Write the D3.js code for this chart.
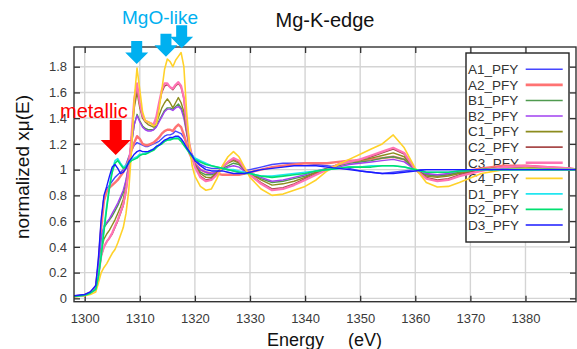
<!DOCTYPE html>
<html><head><meta charset="utf-8">
<script src="https://cdn.jsdelivr.net/npm/d3@7"></script>
<style>
html,body{margin:0;padding:0;background:#fff;}
svg{display:block;font-family:"Liberation Sans",Arial,sans-serif;}
</style></head>
<body>
<svg id="c" width="577" height="349"></svg>
<script>
// ---------------- data ----------------
const energies = [1298,1300,1301,1302,1302.5,1303,1303.5,1304,1304.5,1305,1305.5,1306,1306.5,1307,1307.5,1308,1308.5,1309,
 1309.5,1310,1310.5,1311,1311.5,1312,1312.5,1313,1313.5,1314,1314.5,1315,1315.5,1316,1316.5,1317,1317.5,1318,1318.5,1319,1319.5,1320,
 1321,1322,1323,1324,1325,1326,1327,1328,1329,1330,
 1332,1334,1336,1338,1340,1342,1344,1346,1348,1350,1352,1354,1356,1358,1360,1362,1364,1366,1368,
 1372,1376,1380,1384,1388,1389.5];

const seriesNames = ["A1_PFY","A2_PFY","B1_PFY","B2_PFY","C1_PFY","C2_PFY","C3_PFY","C4_PFY","D1_PFY","D2_PFY","D3_PFY"];

const A1 = [0.015,0.025,0.045,
 0.09,0.28,0.58,0.79,0.85,0.88,0.91,0.94,0.96,0.98,1.0,1.04,1.10,1.15,1.19,
 1.21,1.20,1.19,1.18,1.18,1.19,1.20,1.21,1.22,1.24,1.26,1.27,1.27,1.28,1.30,1.29,1.28,1.25,1.20,1.15,1.12,1.08,
 1.04,1.02,1.01,1.01,1.01,1.0,0.99,0.98,0.99,1.0,
 1.02,1.04,1.05,1.05,1.05,1.04,1.03,1.02,1.01,0.99,0.98,0.97,0.98,0.99,1.0,1.0,1.0,1.0,1.0,
 1.0,1.0,1.0,1.0,1.0,1.0];
const A2 = [0.015,0.025,0.045,
 0.08,0.25,0.55,0.76,0.83,0.86,0.88,0.90,0.92,0.95,0.98,1.02,1.08,1.15,1.21,
 1.26,1.24,1.20,1.19,1.19,1.20,1.21,1.23,1.25,1.28,1.30,1.31,1.31,1.30,1.33,1.35,1.33,1.27,1.20,1.13,1.08,1.05,
 1.0,0.98,0.97,0.97,0.96,0.96,0.96,0.96,0.97,0.98,
 1.0,1.02,1.03,1.04,1.05,1.05,1.05,1.06,1.07,1.07,1.08,1.09,1.10,1.08,1.0,0.96,0.95,0.96,0.98,
 1.01,1.03,1.03,1.02,1.01,1.0];
const B1 = [0.015,0.025,0.045,
 0.08,0.24,0.46,0.55,0.58,0.61,0.64,0.68,0.72,0.77,0.82,0.91,1.04,1.20,1.35,
 1.43,1.38,1.34,1.32,1.31,1.31,1.31,1.34,1.38,1.42,1.46,1.48,1.48,1.47,1.49,1.51,1.48,1.42,1.30,1.18,1.10,1.04,
 0.98,0.96,0.96,0.98,1.01,1.03,1.05,1.04,1.0,0.97,
 0.93,0.90,0.91,0.93,0.95,0.98,1.01,1.03,1.05,1.06,1.07,1.09,1.10,1.08,1.0,0.96,0.95,0.96,0.98,
 1.0,1.01,1.02,1.01,1.01,1.0];
const B2 = [0.015,0.025,0.045,
 0.08,0.25,0.48,0.56,0.59,0.62,0.66,0.70,0.74,0.79,0.84,0.92,1.04,1.20,1.35,
 1.42,1.37,1.33,1.31,1.30,1.30,1.31,1.33,1.37,1.41,1.45,1.47,1.47,1.46,1.48,1.49,1.47,1.40,1.28,1.17,1.09,1.04,
 1.0,0.98,0.97,0.98,1.0,1.02,1.03,1.02,0.99,0.97,
 0.94,0.91,0.92,0.94,0.96,0.99,1.01,1.02,1.04,1.05,1.06,1.07,1.08,1.06,1.0,0.97,0.96,0.97,0.99,
 1.0,1.01,1.02,1.01,1.01,1.0];
const C1 = [0.015,0.025,0.04,
 0.07,0.20,0.38,0.46,0.50,0.53,0.57,0.61,0.66,0.71,0.77,0.87,1.02,1.25,1.48,
 1.60,1.48,1.40,1.37,1.35,1.34,1.33,1.36,1.42,1.48,1.52,1.55,1.52,1.48,1.52,1.56,1.52,1.45,1.30,1.18,1.10,1.04,
 0.97,0.94,0.94,0.98,1.02,1.05,1.07,1.05,1.0,0.97,
 0.92,0.88,0.89,0.91,0.94,0.98,1.01,1.04,1.06,1.07,1.09,1.11,1.13,1.10,1.0,0.95,0.94,0.95,0.97,
 1.0,1.02,1.02,1.01,1.0,1.0];
const C2 = [0.015,0.025,0.04,
 0.07,0.18,0.33,0.40,0.44,0.47,0.50,0.55,0.60,0.66,0.72,0.83,1.0,1.25,1.52,
 1.65,1.50,1.41,1.38,1.37,1.36,1.35,1.40,1.50,1.60,1.65,1.66,1.64,1.62,1.65,1.67,1.64,1.55,1.35,1.20,1.10,1.03,
 0.95,0.92,0.93,0.97,1.02,1.06,1.08,1.06,1.0,0.96,
 0.90,0.85,0.86,0.89,0.93,0.97,1.0,1.04,1.06,1.08,1.10,1.13,1.16,1.12,1.0,0.94,0.92,0.93,0.96,
 1.0,1.02,1.03,1.02,1.01,1.0];
const C3 = [0.015,0.025,0.04,
 0.07,0.18,0.33,0.40,0.44,0.47,0.51,0.56,0.61,0.67,0.73,0.84,1.0,1.27,1.55,
 1.67,1.52,1.42,1.38,1.37,1.36,1.35,1.41,1.52,1.62,1.67,1.67,1.64,1.63,1.66,1.68,1.65,1.56,1.36,1.20,1.10,1.02,
 0.94,0.91,0.92,0.96,1.02,1.06,1.09,1.07,1.01,0.96,
 0.89,0.84,0.85,0.88,0.92,0.96,1.0,1.04,1.06,1.08,1.11,1.14,1.17,1.13,1.0,0.93,0.91,0.92,0.95,
 0.99,1.02,1.03,1.02,1.01,1.0];
const C4 = [0.01,0.02,0.03,
 0.05,0.12,0.20,0.24,0.27,0.31,0.35,0.38,0.43,0.49,0.55,0.66,0.84,1.15,1.55,
 1.79,1.62,1.45,1.38,1.37,1.36,1.34,1.35,1.47,1.62,1.78,1.86,1.84,1.80,1.85,1.88,1.91,1.80,1.45,1.20,1.03,0.95,
 0.87,0.84,0.85,0.93,1.03,1.10,1.14,1.10,1.02,0.94,
 0.85,0.80,0.81,0.84,0.87,0.92,0.99,1.04,1.08,1.12,1.16,1.20,1.27,1.17,1.01,0.90,0.865,0.87,0.90,
 0.97,1.0,1.01,1.0,1.0,1.0];
const D1 = [0.015,0.025,0.04,
 0.07,0.18,0.35,0.55,0.72,0.88,1.0,1.07,1.085,1.05,1.02,1.03,1.06,1.08,1.09,
 1.10,1.12,1.12,1.13,1.14,1.15,1.16,1.18,1.19,1.21,1.22,1.23,1.24,1.24,1.25,1.25,1.23,1.20,1.17,1.14,1.11,1.09,
 1.07,1.05,1.03,1.02,1.01,1.0,1.0,0.99,0.98,0.97,
 0.95,0.95,0.96,0.97,0.98,0.99,1.0,1.01,1.02,1.02,1.03,1.03,1.03,1.02,1.0,0.98,0.98,0.98,0.99,
 1.0,1.0,1.0,1.0,1.0,1.0];
const D2 = [0.015,0.025,0.04,
 0.07,0.17,0.33,0.52,0.70,0.86,0.98,1.05,1.07,1.04,1.01,1.02,1.05,1.07,1.08,
 1.09,1.11,1.12,1.12,1.13,1.14,1.15,1.17,1.19,1.20,1.22,1.23,1.23,1.24,1.24,1.24,1.22,1.19,1.16,1.13,1.10,1.08,
 1.06,1.04,1.03,1.02,1.01,1.0,0.99,0.98,0.97,0.97,
 0.95,0.94,0.95,0.96,0.97,0.99,1.0,1.01,1.02,1.02,1.02,1.03,1.03,1.02,1.0,0.98,0.98,0.98,0.99,
 1.0,1.0,1.0,1.0,1.0,1.0];
const D3 = [0.02,0.03,0.05,
 0.10,0.32,0.62,0.80,0.87,0.95,1.02,1.04,1.01,0.97,0.98,1.01,1.06,1.09,1.12,
 1.14,1.15,1.14,1.14,1.14,1.15,1.16,1.18,1.19,1.21,1.23,1.24,1.25,1.25,1.26,1.26,1.24,1.21,1.17,1.14,1.11,1.07,
 1.03,1.0,0.99,0.99,0.99,0.98,0.97,0.97,0.97,0.98,
 1.0,1.01,1.02,1.03,1.03,1.03,1.02,1.01,1.0,0.99,0.98,0.97,0.97,0.98,0.99,1.0,1.0,1.0,1.0,
 1.0,1.0,1.0,1.0,1.0,1.0];

const seriesValues = [A1,A2,B1,B2,C1,C2,C3,C4,D1,D2,D3];
const seriesColors = ["#4646ff","#ff7373","#4f9a4f","#a040f0","#8c8c1e","#a84a4a","#ff73b4","#ffd22a","#22e6f0","#00e070","#1a1aff"];
const seriesWidths = [1.4,2.4,1.4,1.4,1.4,1.4,2.2,1.6,1.6,1.6,1.4];

const xTicks = [1300,1310,1320,1330,1340,1350,1360,1370,1380];
const yTicks = [0,0.2,0.4,0.6,0.8,1,1.2,1.4,1.6,1.8];

const mgoPeaks = [[1309.44,1.82],[1314.75,1.877],[1317.6,1.943]];
const metallicPeak = [1305.63,1.113];

// ---------------- chart ----------------
const svg = d3.select("#c");
const L=74, R=576, T=47, B=301.7;
const x = d3.scaleLinear().domain([1298.06,1389.17]).range([L,R]);
const y = d3.scaleLinear().domain([-0.026,1.953]).range([B,T]);

// grid
const grid = svg.append("g");
grid.selectAll(".gx").data(xTicks).join("line")
  .attr("x1",d=>x(d)).attr("x2",d=>x(d)).attr("y1",T).attr("y2",B)
  .attr("stroke","#d4d4d4").attr("stroke-width",1.4);
grid.selectAll(".gy").data(yTicks).join("line")
  .attr("x1",L).attr("x2",R).attr("y1",d=>y(d)).attr("y2",d=>y(d))
  .attr("stroke","#d4d4d4").attr("stroke-width",1.4);

// axes
const fmt = d=>String(d);
const ax = (g)=>{g.select(".domain").remove(); g.selectAll("line").attr("stroke","#333").attr("stroke-width",1.3);
  g.selectAll("text").attr("fill","#3a3a3a").attr("font-size","13px").attr("font-family","Liberation Sans, Arial, sans-serif");};
svg.append("g").attr("transform",`translate(0,${B})`)
  .call(d3.axisBottom(x).tickValues(xTicks).tickFormat(fmt).tickSizeInner(-6).tickSizeOuter(0).tickPadding(12)).call(ax);
svg.append("g").attr("transform",`translate(0,${T})`)
  .call(d3.axisTop(x).tickValues(xTicks).tickFormat("").tickSizeInner(-6).tickSizeOuter(0)).call(ax);
svg.append("g").attr("transform",`translate(${L},0)`)
  .call(d3.axisLeft(y).tickValues(yTicks).tickFormat(fmt).tickSizeInner(-6).tickSizeOuter(0).tickPadding(7)).call(ax);
svg.append("g").attr("transform",`translate(${R},0)`)
  .call(d3.axisRight(y).tickValues(yTicks).tickFormat("").tickSizeInner(-6).tickSizeOuter(0)).call(ax);

// legend (drawn under curves)
const lg = svg.append("g");
lg.append("rect").attr("x",466).attr("y",53).attr("width",103).attr("height",189)
  .attr("fill","#fff").attr("stroke","#222").attr("stroke-width",1.4);
seriesNames.forEach((n,i)=>{
  const cy = 69.3 + i*15.57;
  lg.append("text").attr("x",468).attr("y",cy).attr("dy","0.36em")
    .attr("font-size","13.5px").attr("fill","#333").text(n);
  lg.append("line").attr("x1",525.7).attr("x2",562.7).attr("y1",cy).attr("y2",cy)
    .attr("stroke",seriesColors[i]).attr("stroke-width",seriesWidths[i]+0.2);
});

// curves
svg.append("defs").append("clipPath").attr("id","clip").append("rect")
  .attr("x",L).attr("y",T).attr("width",R-L).attr("height",B-T);
const line = d3.line().x((d,i)=>x(energies[i])).y(d=>y(d));
const cg = svg.append("g").attr("clip-path","url(#clip)");
seriesValues.forEach((vals,i)=>{
  cg.append("path").attr("d",line(vals)).attr("fill","none")
    .attr("stroke",seriesColors[i]).attr("stroke-width",seriesWidths[i])
    .attr("stroke-linejoin","round");
});

// frame
svg.append("rect").attr("x",L).attr("y",T).attr("width",R-L).attr("height",B-T)
  .attr("fill","none").attr("stroke","#333").attr("stroke-width",1.4);

// titles
svg.append("text").attr("x",325).attr("y",27).attr("text-anchor","middle")
  .attr("font-size","20px").attr("fill","#111").text("Mg-K-edge");
svg.append("text").attr("x",267).attr("y",346).attr("font-size","18px").attr("fill","#111").text("Energy");
svg.append("text").attr("x",348).attr("y",346).attr("font-size","18px").attr("fill","#111").text("(eV)");
svg.append("text").attr("transform","translate(29,167) rotate(-90)").attr("text-anchor","middle")
  .attr("font-size","19px").attr("fill","#111").text("normalized xμ(E)");

// annotations
function downArrow(tipX, tipY, shaftW, headW, headH, totalH, color){
  const p = [[tipX-shaftW/2,tipY-totalH],[tipX+shaftW/2,tipY-totalH],[tipX+shaftW/2,tipY-headH],
    [tipX+headW/2,tipY-headH],[tipX,tipY],[tipX-headW/2,tipY-headH],[tipX-shaftW/2,tipY-headH]];
  svg.append("path").attr("d","M"+p.map(q=>q.join(",")).join("L")+"Z").attr("fill",color);
}
mgoPeaks.forEach(d=>downArrow(x(d[0]),y(d[1]),11,23,11.5,23,"#00b0f0"));
downArrow(x(metallicPeak[0]),y(metallicPeak[1]),12,30,15,35,"#ff0000");
svg.append("text").attr("x",122).attr("y",24).attr("font-size","19px").attr("fill","#00b0f0").text("MgO-like");
svg.append("text").attr("x",60).attr("y",118).attr("font-size","20px").attr("fill","#ff0000").text("metallic");
</script>
</body></html>
